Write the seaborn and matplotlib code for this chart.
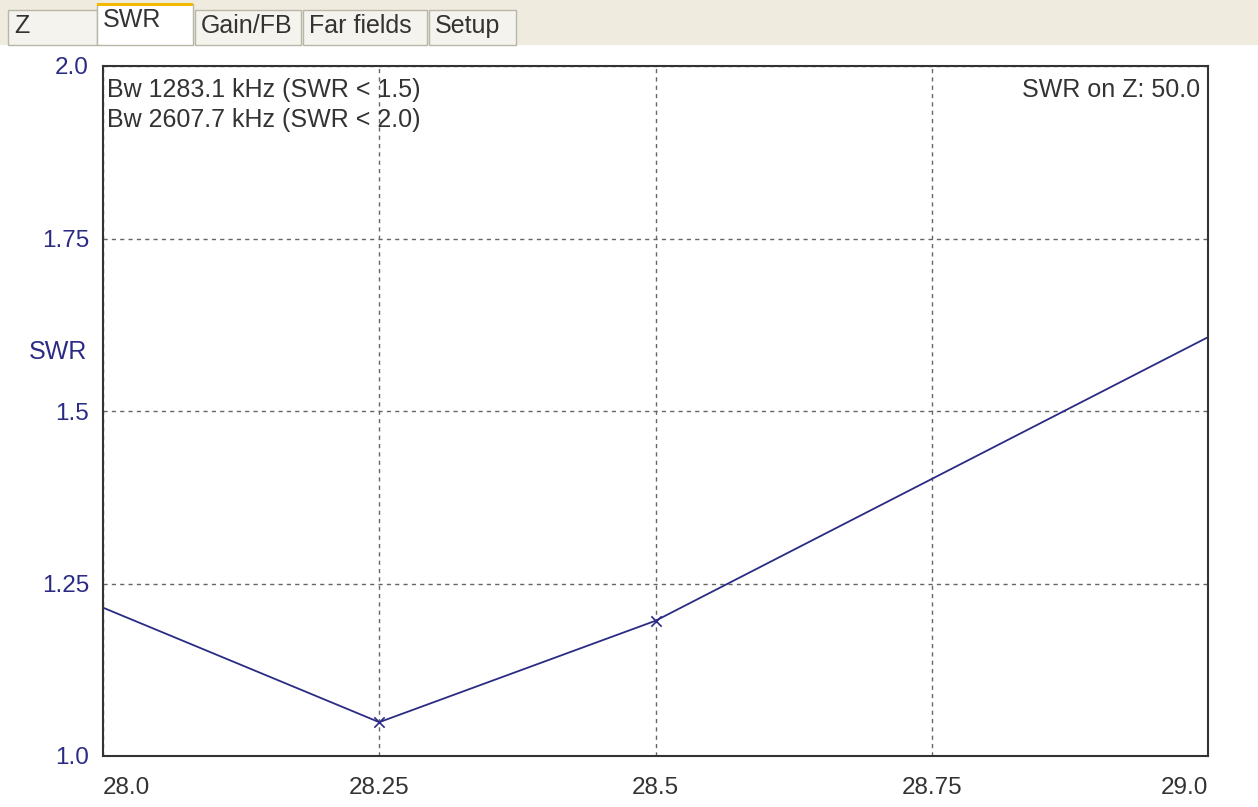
import matplotlib
matplotlib.use('Agg')
import matplotlib.pyplot as plt
from matplotlib.patches import Rectangle
import seaborn as sns
import pandas as pd

# SWR sweep values
freq = [28.0, 28.25, 28.5, 29.0]
swr = [1.215, 1.049, 1.196, 1.607]
marked_freq = [28.25, 28.5]
marked_swr = [1.049, 1.196]

x_ticks = [28.0, 28.25, 28.5, 28.75, 29.0]
x_labels = ['28.0', '28.25', '28.5', '28.75', '29.0']
y_ticks = [1.0, 1.25, 1.5, 1.75, 2.0]
y_labels = ['1.0', '1.25', '1.5', '1.75', '2.0']
tabs = ['Z', 'SWR', 'Gain/FB', 'Far fields', 'Setup']

sns.set_style('white')
plt.rcParams['font.family'] = ['Liberation Sans', 'DejaVu Sans']

navy = '#2b2b85'
fig = plt.figure(figsize=(12.58, 8.07), dpi=100)
W, H = 1258, 807

# tab strip across the top
fig.patches.append(Rectangle((0, 1 - 45 / H), 1, 45 / H, transform=fig.transFigure,
                             facecolor='#efecdf', edgecolor='none'))
tab_edges = [(8, 97), (97, 193), (195, 301), (303, 427), (429, 516)]
for name, (x0, x1) in zip(tabs, tab_edges):
    active = name == 'SWR'
    top = 4 if active else 10
    fig.patches.append(Rectangle((x0 / W, 1 - 45 / H), (x1 - x0) / W, (45 - top) / H,
                                 transform=fig.transFigure,
                                 facecolor='white' if active else '#f4f3ee',
                                 edgecolor='#b8b6a8', linewidth=1))
    if active:
        fig.patches.append(Rectangle((x0 / W, 1 - 6 / H), (x1 - x0) / W, 3 / H,
                                     transform=fig.transFigure,
                                     facecolor='#f5b800', edgecolor='none'))
    tx = (x0 + 6) / W
    ty = 1 - (20 if active else 26) / H
    fig.text(tx, ty, name, fontsize=18, color='#333333', va='center', ha='left')

ax = fig.add_axes([103 / W, (807 - 756) / H, (1208 - 103) / W, (756 - 66) / H])

df = pd.DataFrame({'freq': freq, 'swr': swr})
sns.lineplot(data=df, x='freq', y='swr', ax=ax, color=navy, linewidth=1.3)
ax.scatter(marked_freq, marked_swr, marker='x', s=55, color=navy, linewidths=1.2, zorder=3)

ax.set_xlim(28.0, 29.0)
ax.set_ylim(1.0, 2.0)
ax.set_xticks(x_ticks)
ax.set_xticklabels(x_labels, fontsize=17.5, color='#333333')
ax.set_yticks(y_ticks)
ax.set_yticklabels(y_labels, fontsize=17.5, color=navy)
ax.tick_params(axis='x', length=0, pad=15)
ax.tick_params(axis='y', length=0, pad=10)
labs = ax.get_xticklabels()
labs[0].set_ha('left')
labs[-1].set_ha('right')
ax.grid(True, linestyle=(0, (3, 3)), color='#666666', linewidth=1)
ax.set_xlabel('')
ax.set_ylabel('')
for s in ax.spines.values():
    s.set_color('#333333')
    s.set_linewidth(1.5)

fig.text(58 / W, 1 - 352 / H, 'SWR', fontsize=18, color=navy, ha='center', va='center')

ax.text(0.004, 0.982, 'Bw 1283.1 kHz (SWR < 1.5)\nBw 2607.7 kHz (SWR < 2.0)',
        transform=ax.transAxes, fontsize=18, va='top', ha='left', color='#333333',
        linespacing=1.3)
ax.text(0.993, 0.982, 'SWR on Z: 50.0', transform=ax.transAxes, fontsize=18,
        va='top', ha='right', color='#333333')

fig.savefig('out.png', dpi=100)
